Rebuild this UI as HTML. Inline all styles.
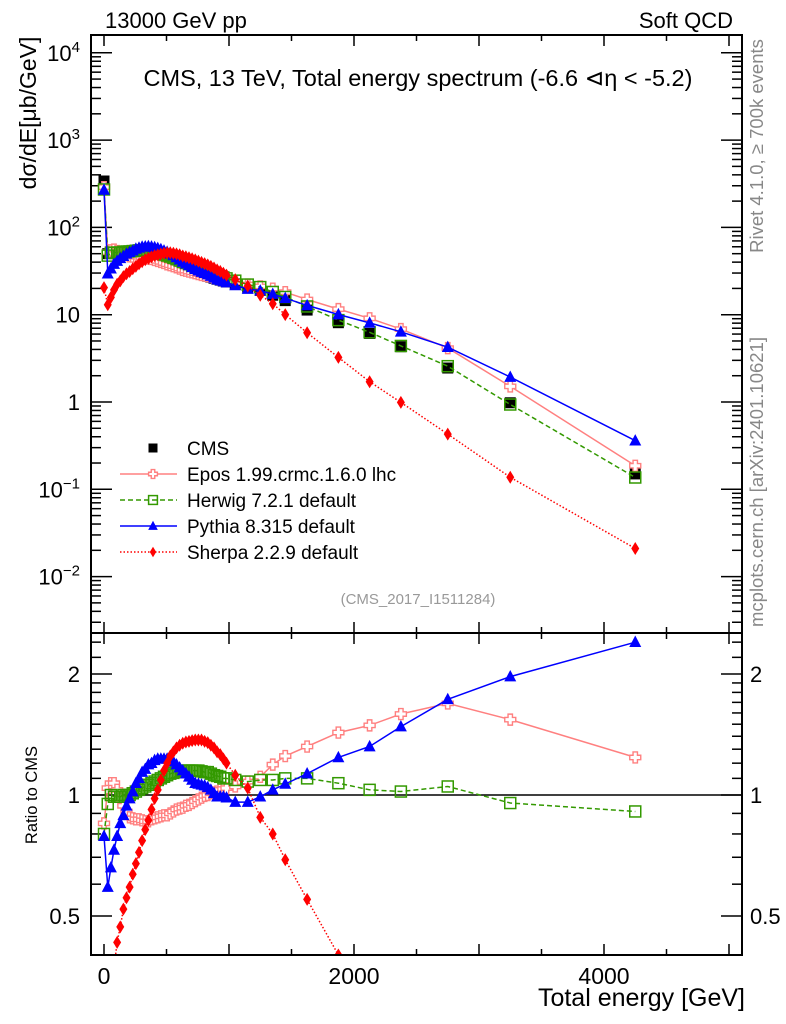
<!DOCTYPE html>
<html><head><meta charset="utf-8"><style>
html,body{margin:0;padding:0;background:#fff;width:786px;height:1024px;overflow:hidden;}
svg{display:block;font-family:"Liberation Sans",sans-serif;}
</style></head><body>
<svg id="chart" width="786" height="1024" viewBox="0 0 786 1024" xmlns="http://www.w3.org/2000/svg">
<defs>
<clipPath id="clipMain"><rect x="92" y="36" width="649" height="596"/></clipPath>
<clipPath id="clipRat"><rect x="92" y="634" width="649" height="320"/></clipPath>
</defs>
<text x="105" y="28" font-size="22">13000 GeV pp</text>
<text x="733" y="28" font-size="22" text-anchor="end">Soft QCD</text>
<text x="418" y="86" font-size="23.5" text-anchor="middle">CMS, 13 TeV, Total energy spectrum (-6.6 ⊲η &lt; -5.2)</text>
<text transform="translate(36,113) rotate(-90)" font-size="23" text-anchor="middle">dσ/dE[μb/GeV]</text>
<text transform="translate(763,146) rotate(-90)" font-size="18.5" fill="#888" text-anchor="middle">Rivet 4.1.0, ≥ 700k events</text>
<text transform="translate(763,482) rotate(-90)" font-size="18.5" fill="#888" text-anchor="middle">mcplots.cern.ch [arXiv:2401.10621]</text>
<text x="418" y="604" font-size="15" fill="#999" text-anchor="middle">(CMS_2017_I1511284)</text>
<text transform="translate(37,795) rotate(-90)" font-size="16.5" text-anchor="middle">Ratio to CMS</text>
<text x="745" y="1006" font-size="25" text-anchor="end">Total energy [GeV]</text>
<g id="axes"></g>
<g id="mainSeries" clip-path="url(#clipMain)"></g>
<g id="ratSeries" clip-path="url(#clipRat)"></g>
<g id="legend"></g>
<rect x="91" y="35" width="651" height="598" fill="none" stroke="#000" stroke-width="2"/>
<rect x="91" y="633" width="651" height="322" fill="none" stroke="#000" stroke-width="2"/>
</svg>
<script>
const energies = [0,30,55,80,105,130,155,180,205,230,255,280,305,330,355,380,405,430,455,480,505,530,555,580,605,630,655,680,705,730,755,780,805,830,855,880,905,930,955,980,1050,1150,1250,1350,1450,1625,1875,2125,2375,2750,3250,4250];
const cmsValues = [340,50,51,52,52,52,52.5,53,53,53,53,53,52.5,52,51,50,48.5,47,45.5,44,42.5,41,39.5,38,36.5,35,34,33,32,31,30,29,28.3,27.6,26.9,26.2,25.5,24.9,24.3,23.7,22.5,20.5,19,16.7,14.5,11.3,8.1,6.1,4.3,2.45,0.98,0.15];
const eposRatio = [0.85,1.04,1.07,1.07,1.03,0.98,0.94,0.91,0.88,0.875,0.87,0.87,0.865,0.86,0.86,0.87,0.875,0.88,0.885,0.89,0.89,0.90,0.91,0.92,0.925,0.93,0.94,0.945,0.955,0.965,0.975,0.985,0.995,1.0,1.01,1.015,1.02,1.03,1.035,1.04,1.05,1.08,1.11,1.19,1.25,1.32,1.43,1.49,1.59,1.69,1.54,1.24];
const herwigRatio = [0.80,0.95,1.0,0.99,0.99,0.99,1.0,1.0,1.0,1.01,1.02,1.03,1.04,1.05,1.06,1.07,1.08,1.09,1.10,1.11,1.12,1.13,1.135,1.14,1.145,1.15,1.15,1.15,1.15,1.15,1.15,1.145,1.14,1.14,1.13,1.12,1.115,1.11,1.10,1.10,1.09,1.08,1.09,1.09,1.10,1.10,1.07,1.03,1.02,1.05,0.955,0.91];
const pythiaRatio = [0.79,0.59,0.66,0.73,0.79,0.85,0.89,0.94,0.98,1.02,1.07,1.10,1.14,1.16,1.19,1.20,1.22,1.23,1.23,1.23,1.23,1.22,1.21,1.19,1.17,1.15,1.13,1.11,1.09,1.07,1.065,1.06,1.055,1.045,1.03,1.01,0.99,0.99,0.99,0.985,0.96,0.96,0.99,1.03,1.065,1.13,1.24,1.32,1.48,1.73,1.97,2.40];
const sherpaRatio = [0.06,0.26,0.31,0.37,0.43,0.47,0.52,0.555,0.59,0.635,0.675,0.72,0.77,0.82,0.865,0.92,0.98,1.03,1.09,1.15,1.2,1.25,1.28,1.31,1.33,1.345,1.355,1.36,1.365,1.37,1.37,1.37,1.36,1.35,1.33,1.31,1.28,1.26,1.23,1.20,1.12,1.04,0.88,0.80,0.69,0.55,0.40,0.28,0.23,0.175,0.14,0.14];
const xTickLabels = ["0","2000","4000"];
const mainTickBases = ["10","10","10","10","1","10","10"];
const mainTickExps = ["4","3","2","","","−1","−2"];
const ratioTickLabels = ["2","1","0.5"];

const NS="http://www.w3.org/2000/svg";
const xS = e => 104 + e*0.125;
const yM = v => 402 - 87.3*Math.log10(v);
const yR = r => 795 - 402*Math.log10(r);
function mk(tag, attrs, parent){const el=document.createElementNS(NS,tag);for(const k in attrs)el.setAttribute(k,attrs[k]);parent.appendChild(el);return el;}

const axes=document.getElementById('axes');
for(let e=0;e<=5000;e+=500){
  const major = e%1000===0; const L = major?11:6; const x=xS(e);
  for(const [y0,dir] of [[955,-1],[633,1],[633,-1],[35,1]]){
    const t=mk('line',{x1:x,x2:x,y1:y0,y2:y0+dir*L,stroke:'#000','stroke-width':1.5},axes);
    
    
  }
}
xTickLabels.forEach(s=>{
  const t=mk('text',{x:xS(+s),y:984,'font-size':23,'text-anchor':'middle'},axes);
  t.textContent=s;
  
  
});
for(let d=-3;d<=4;d++){
  for(let m=1;m<10;m++){
    const v=m*Math.pow(10,d); const y=yM(v); if(y<36||y>632) continue;
    const L=m===1?21:10;
    for(const [x0,dir] of [[91,1],[742,-1]]){
      const t=mk('line',{x1:x0,x2:x0+dir*L,y1:y,y2:y,stroke:'#000','stroke-width':1.5},axes);
      
      
    }
  }
}
mainTickBases.forEach((s,i)=>{
  const t=mk('text',{x:80,y:yM(Math.pow(10,4-i))+8,'font-size':22,'text-anchor':'end'},axes);
  
  
  const b=mk('tspan',{},t); b.textContent=s;
  if(mainTickExps[i]){const e=mk('tspan',{dy:-9,'font-size':15},t); e.textContent=mainTickExps[i];}
});
const rt=[];for(let r=4;r<=20;r++)rt.push(r/10);rt.push(2.2,2.4);
rt.forEach(r=>{
  const y=yR(r); if(y<634||y>954) return;
  const L=(r===0.5||r===1||r===2)?21:10;
  for(const [x0,dir] of [[91,1],[742,-1]]){
    const t=mk('line',{x1:x0,x2:x0+dir*L,y1:y,y2:y,stroke:'#000','stroke-width':1.5},axes);
    
    
  }
});
ratioTickLabels.forEach(s=>{
  for(const [x,anc] of [[80,'end'],[750,'start']]){
    const t=mk('text',{x:x,y:yR(+s)+8,'font-size':22,'text-anchor':anc},axes);
    t.textContent=s;
    
    
  }
});
const unity=mk('line',{x1:91,x2:742,y1:yR(1),y2:yR(1),stroke:'#000','stroke-width':1.5},axes);



function marker(kind,x,y,color,s,parent){
  let el;
  if(kind==='square'){el=mk('rect',{x:x-s,y:y-s,width:2*s,height:2*s,fill:'#000'},parent);}
  else if(kind==='opensq'){el=mk('rect',{x:x-s,y:y-s,width:2*s,height:2*s,fill:'none',stroke:color,'stroke-width':1.5},parent);}
  else if(kind==='cross'){const a=s*0.4;el=mk('path',{d:`M${x-a},${y-s}h${2*a}v${s-a}h${s-a}v${2*a}h${a-s}v${s-a}h${-2*a}v${a-s}h${a-s}v${-2*a}h${s-a}z`,fill:'#fff',stroke:color,'stroke-width':1.4},parent);}
  else if(kind==='tri'){el=mk('path',{d:`M${x},${y-s*1.1}L${x+s},${y+s*0.8}L${x-s},${y+s*0.8}z`,fill:color},parent);}
  else {el=mk('path',{d:`M${x},${y-s*1.3}L${x+s*0.8},${y}L${x},${y+s*1.3}L${x-s*0.8},${y}z`,fill:color},parent);}
  return el;
}
const models=[
  {name:'epos',ratio:eposRatio,color:'#ff8080',dash:'',kind:'cross',s:5.5,label:'Epos 1.99.crmc.1.6.0 lhc'},
  {name:'herwig',ratio:herwigRatio,color:'#339900',dash:'5,3',kind:'opensq',s:5.5,label:'Herwig 7.2.1 default'},
  {name:'pythia',ratio:pythiaRatio,color:'#0000ff',dash:'',kind:'tri',s:6,label:'Pythia 8.315 default'},
  {name:'sherpa',ratio:sherpaRatio,color:'#ff0000',dash:'1.5,2',kind:'diamond',s:5,label:'Sherpa 2.2.9 default'}
];
const mainG=document.getElementById('mainSeries'), ratG=document.getElementById('ratSeries');
energies.forEach((e,i)=>{
  const m=marker('square',xS(e),yM(cmsValues[i]),'#000',5.5,mainG);
  
  
});
models.forEach(md=>{
  const vals=energies.map((e,i)=>cmsValues[i]*md.ratio[i]);
  const pm=energies.map((e,i)=>xS(e).toFixed(1)+','+yM(vals[i]).toFixed(1)).join(' ');
  const pr=energies.map((e,i)=>xS(e).toFixed(1)+','+yR(md.ratio[i]).toFixed(1)).join(' ');
  const l1=mk('polyline',{points:pm,fill:'none',stroke:md.color,'stroke-width':1.5,'stroke-dasharray':md.dash},mainG);
  
  
  const l2=mk('polyline',{points:pr,fill:'none',stroke:md.color,'stroke-width':1.5,'stroke-dasharray':md.dash},ratG);
  
  
  energies.forEach((e,i)=>{
    const a=marker(md.kind,xS(e),yM(vals[i]),md.color,md.s,mainG);
    
    
    const b=marker(md.kind,xS(e),yR(md.ratio[i]),md.color,md.s,ratG);
    
    
  });
});
const lg=document.getElementById('legend');
const rows=[{label:'CMS',kind:'square',color:'#000',dash:null,s:4.5}].concat(models.map(m=>({label:m.label,kind:m.kind,color:m.color,dash:m.dash,s:m.s*0.8})));
rows.forEach((r,i)=>{
  const y=448+26*i;
  const g=mk('g',{},lg);
  
  
  if(r.dash!==null){mk('line',{x1:120,x2:177,y1:y,y2:y,stroke:r.color,'stroke-width':1.5,'stroke-dasharray':r.dash},g);}
  marker(r.kind,153,y,r.color,r.s,g);
  const t=mk('text',{x:187,y:y+7,'font-size':19},g);
  t.textContent=r.label;
});
</script>
</body></html>
